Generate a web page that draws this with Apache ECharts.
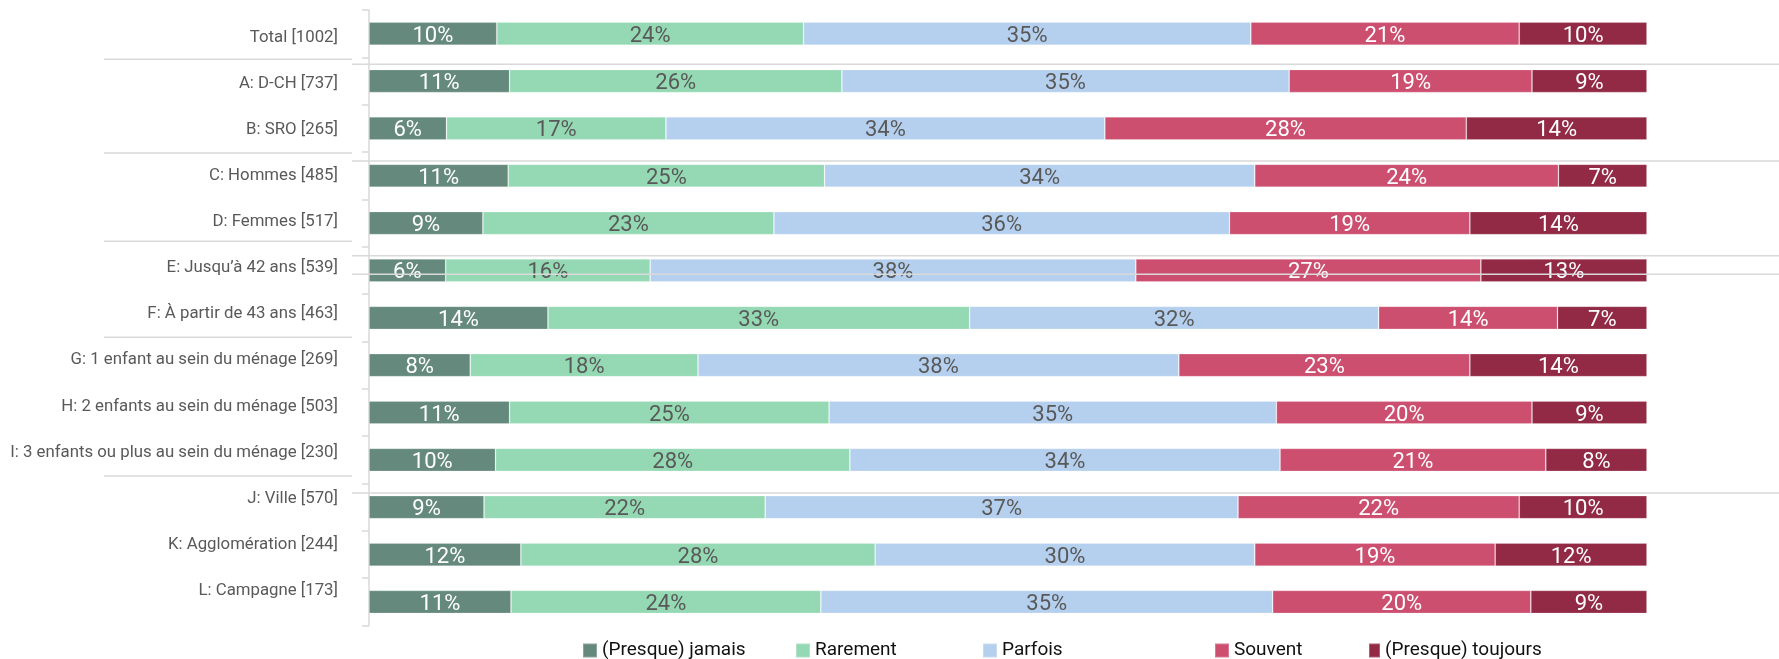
<!DOCTYPE html>
<html>
<head>
<meta charset="utf-8">
<script src="https://cdn.jsdelivr.net/npm/echarts@6/dist/echarts.min.js"></script>
<style>
  html, body { margin: 0; padding: 0; background: #ffffff; }
  #chart { width: 1779px; height: 659px; }
</style>
</head>
<body>
<div id="chart"></div>
<script>
// ---- data ----
const categories = [
  'Total [1002]',
  'A: D-CH [737]',
  'B: SRO [265]',
  'C: Hommes [485]',
  'D: Femmes [517]',
  'E: Jusqu’à 42 ans [539]',
  'F: À partir de 43 ans [463]',
  'G: 1 enfant au sein du ménage [269]',
  'H: 2 enfants au sein du ménage [503]',
  'I: 3 enfants ou plus au sein du ménage [230]',
  'J: Ville [570]',
  'K: Agglomération [244]',
  'L: Campagne [173]'
];
const seriesNames = ['(Presque) jamais', 'Rarement', 'Parfois', 'Souvent', '(Presque) toujours'];
const jamais   = [10, 11, 6, 11, 9, 6, 14, 8, 11, 10, 9, 12, 11];
const rarement = [24, 26, 17, 25, 23, 16, 33, 18, 25, 28, 22, 28, 24];
const parfois  = [35, 35, 34, 34, 36, 38, 32, 38, 35, 34, 37, 30, 35];
const souvent  = [21, 19, 28, 24, 19, 27, 14, 23, 20, 21, 22, 19, 20];
const toujours = [10, 9, 14, 7, 14, 13, 7, 14, 9, 8, 10, 12, 9];

// ---- styling ----
const colors = ['#658a7d', '#94d9b3', '#b5d0ee', '#cd4f70', '#922a46'];
const labelColors = ['#ffffff', '#595959', '#595959', '#ffffff', '#ffffff'];
const legendLeft = [582, 795, 982, 1214, 1368];
const FONT = 'Roboto';

const rawSeries = [jamais, rarement, parfois, souvent, toujours];
const rowSums = categories.map((_, i) => rawSeries.reduce((s, arr) => s + arr[i], 0));

const chart = echarts.init(document.getElementById('chart'), null, { renderer: 'canvas' });

const series = rawSeries.map((arr, si) => ({
  name: seriesNames[si],
  type: 'bar',
  stack: 'total',
  xAxisIndex: 0,
  yAxisIndex: 0,
  barWidth: 23,
  itemStyle: { color: colors[si], borderColor: 'rgba(255,255,255,0.25)', borderWidth: 0.8 },
  label: {
    show: true,
    position: 'inside',
    offset: [0, 2.5],
    color: labelColors[si],
    fontFamily: FONT,
    fontSize: 22,
    formatter: p => arr[p.dataIndex] + '%'
  },
  data: arr.map((v, i) => ({ value: v / rowSums[i] * 100 }))
}));

const legends = seriesNames.map((n, i) => ({
  data: [n],
  left: legendLeft[i],
  top: 641,
  padding: 0,
  itemWidth: i === 4 ? 11 : 14,
  itemHeight: 14,
  icon: 'rect',
  textStyle: { fontFamily: FONT, fontSize: 19, color: '#111111' }
}));

chart.setOption({
  animation: false,
  color: colors,
  legend: legends,
  grid: [
    { left: 369, right: 132, top: 10, bottom: 33.4 },
    { left: 369, right: 132, top: 15, bottom: 45.5 }
  ],
  xAxis: [
    { type: 'value', gridIndex: 0, min: 0, max: 100, show: false },
    { type: 'value', gridIndex: 1, min: 0, max: 100, show: false }
  ],
  yAxis: [
    {
      type: 'category', gridIndex: 0, inverse: true, data: categories,
      axisLine: { show: true, lineStyle: { color: '#d9d9d9', width: 1.5 } },
      axisTick: { show: true, length: 7, lineStyle: { color: '#d9d9d9', width: 1.5 } },
      axisLabel: { show: false },
      splitLine: { show: false }
    },
    {
      type: 'category', gridIndex: 1, inverse: true, data: categories,
      axisLine: { show: false },
      axisTick: { show: false },
      axisLabel: { show: true, margin: 31, color: '#595959', fontFamily: FONT, fontSize: 16.8 },
      splitLine: { show: false }
    }
  ],
  series: series
});

// decorative separator rules, positioned from the category scales
const leftRules = [{ after: 0, dy: -1.7 }, { after: 2, dy: 0 }, { after: 4, dy: -4 }, { after: 6, dy: 0 }, { after: 9, dy: 0.6 }];
const rightRules = [{ after: 0, dy: 7 }, { after: 2, dy: 9 }, { after: 4, dy: 9 }, { after: 4, dy: 27.5 }, { after: 9, dy: 9.5 }];

function boundary(axisIndex, k) {
  const a = chart.convertToPixel({ yAxisIndex: axisIndex }, categories[k]);
  const b = chart.convertToPixel({ yAxisIndex: axisIndex }, categories[k + 1]);
  return (a + b) / 2;
}
const graphics = [];
leftRules.forEach(r => {
  const y = boundary(1, r.after) + r.dy;
  graphics.push({ type: 'line', z: 100, shape: { x1: 104, y1: y, x2: 352, y2: y }, style: { stroke: '#d9d9d9', lineWidth: 1.5 } });
});
rightRules.forEach(r => {
  const y = boundary(0, r.after) + r.dy;
  graphics.push({ type: 'line', z: 100, shape: { x1: 352, y1: y, x2: 1779, y2: y }, style: { stroke: '#d9d9d9', lineWidth: 1.5 } });
});
chart.setOption({ graphic: graphics });
</script>
</body>
</html>
